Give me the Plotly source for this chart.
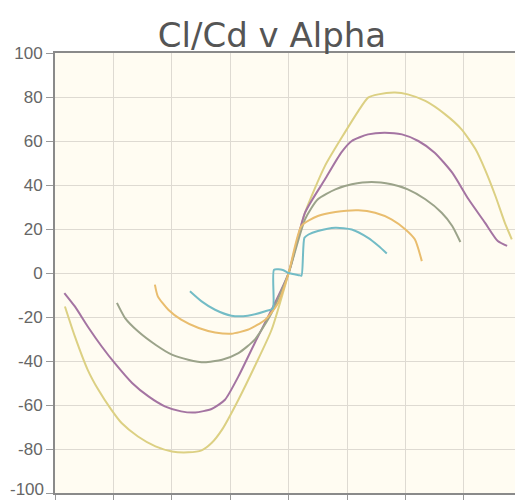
import plotly.graph_objects as go

# Alpha (deg) and Cl/Cd values
yellow_x = [-19.15, -18.3, -17.2, -16.3, -15.2, -14.3, -12.9, -11.4, -10.0, -8.6, -7.45, -6.6, -5.7, -4.3, -2.9, -1.46, 0.0, 1.4, 3.1, 4.8, 5.96, 6.8, 7.67, 9.1, 10.2, 11.7, 13.4, 14.8, 16.0, 16.8, 17.7, 18.5, 19.1]
yellow_y = [-15.2, -28.8, -44.0, -53.0, -62.0, -68.2, -74.3, -78.8, -81.1, -81.5, -80.6, -77.3, -71.2, -57.6, -42.4, -25.8, 0.0, 27.4, 48.6, 63.8, 73.6, 79.7, 81.2, 82.0, 81.2, 78.2, 72.1, 65.3, 56.2, 47.1, 35.0, 22.9, 15.3]

purple_x = [-19.2, -18.3, -17.2, -16.0, -14.9, -13.4, -12.0, -10.6, -9.2, -8.0, -6.6, -5.45, -4.3, -2.9, -1.46, 0.0, 1.4, 3.1, 4.5, 5.4, 6.8, 8.2, 9.7, 11.1, 12.5, 14.0, 15.4, 16.8, 17.9, 18.7]
purple_y = [-9.1, -15.2, -24.3, -33.4, -40.9, -50.0, -56.1, -60.6, -62.9, -63.4, -61.8, -57.6, -47.0, -31.8, -16.7, 0.0, 27.4, 42.5, 54.7, 60.0, 63.0, 63.8, 63.0, 60.0, 54.7, 45.6, 33.5, 22.9, 14.5, 12.3]

green_x = [-14.7, -14.0, -12.9, -11.4, -10.0, -8.6, -7.2, -5.7, -4.3, -2.9, -1.46, 0.0, 1.4, 2.5, 4.0, 5.4, 7.1, 8.8, 10.2, 11.7, 13.1, 14.0, 14.7]
green_y = [-13.6, -20.5, -26.5, -32.6, -37.1, -39.4, -40.6, -39.4, -36.4, -30.3, -18.2, 0.0, 24.4, 33.5, 38.0, 40.3, 41.4, 40.3, 38.0, 33.5, 27.4, 21.4, 14.1]

orange_x = [-11.45, -11.2, -10.3, -9.2, -7.7, -6.3, -4.9, -3.5, -2.0, -0.9, 0.0, 1.1, 2.5, 4.0, 5.96, 7.4, 8.8, 10.0, 10.8, 11.4]
orange_y = [-5.3, -10.6, -16.7, -21.2, -25.0, -27.0, -27.6, -25.8, -21.2, -13.6, 0.0, 21.4, 25.9, 27.7, 28.5, 27.4, 24.4, 19.8, 15.3, 5.4]

cyan_x = [-8.45, -7.45, -6.3, -4.9, -3.5, -2.0, -1.35, -1.25, -0.5, 0.0, 0.9, 1.1, 1.35, 1.7, 2.5, 4.0, 5.4, 6.8, 7.7, 8.4]
cyan_y = [-8.3, -12.9, -16.7, -19.4, -19.4, -17.4, -16.0, 1.5, 1.4, 0.0, -1.0, -1.2, 16.0, 17.5, 19.1, 20.6, 19.8, 16.0, 12.3, 8.9]

y_tick_vals = [100, 80, 60, 40, 20, 0, -20, -40, -60, -80, -100]
y_tick_text = ["100", "80", "60", "40", "20", "0", "-20", "-40", "-60", "-80", "-100"]
x_tick_vals = [-20, -15, -10, -5, 0, 5, 10, 15]

series = [
    (yellow_x, yellow_y, "#dcd083"),
    (purple_x, purple_y, "#a474a2"),
    (green_x, green_y, "#9ba38a"),
    (orange_x, orange_y, "#e9bd6e"),
    (cyan_x, cyan_y, "#73bcc6"),
]

fig = go.Figure()
for xs, ys, col in series:
    fig.add_trace(go.Scatter(x=xs, y=ys, mode="lines",
                             line=dict(color=col, width=2, shape="spline", smoothing=0.6),
                             showlegend=False, hoverinfo="skip"))

W, H = 515, 500
tick_font = dict(family="Liberation Sans", size=17, color="#666666")
fig.update_layout(
    width=W, height=H,
    margin=dict(l=55, r=0, t=53, b=7),
    paper_bgcolor="white",
    plot_bgcolor="#fffcf2",
    title=dict(text="Cl/Cd v Alpha", x=272 / W, xanchor="center",
               y=1 - 23 / H, yanchor="top", yref="container",
               font=dict(family="DejaVu Sans", size=34, color="#555555")),
    showlegend=False,
)
fig.update_xaxes(range=[-20, 19.375], tickvals=x_tick_vals, showticklabels=False,
                 ticks="outside", ticklen=6, tickcolor="#999999",
                 showgrid=True, gridcolor="#dedad2", gridwidth=1,
                 showline=True, linecolor="#8a8a8a", linewidth=2, mirror=True,
                 zeroline=False)
# the bottom-most label is hidden by plotly at the axis corner, so it is drawn as an annotation
fig.update_yaxes(range=[-100, 100], tickvals=y_tick_vals,
                 ticktext=y_tick_text[:-1] + [""],
                 ticks="outside", ticklen=7, tickcolor="#999999",
                 tickfont=tick_font,
                 showgrid=True, gridcolor="#dedad2", gridwidth=1,
                 showline=True, linecolor="#8a8a8a", linewidth=2,
                 zeroline=False)
fig.add_annotation(x=0, xref="paper", y=y_tick_vals[-1], yref="y",
                   text=y_tick_text[-1], showarrow=False,
                   xanchor="right", yanchor="bottom", xshift=-10, yshift=-7,
                   borderpad=0, font=tick_font)

fig.write_html("out.html", config={"displayModeBar": False},
               post_script="document.body.style.margin='0';document.body.style.overflow='hidden';")
